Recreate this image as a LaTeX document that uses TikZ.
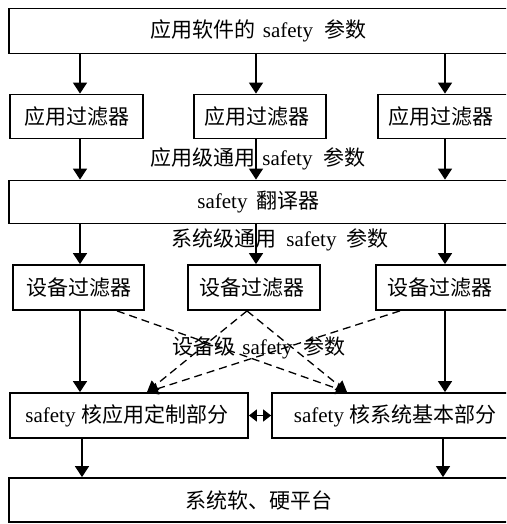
\documentclass[tikz,border=0pt]{standalone}
\usepackage{fontspec}
\setmainfont{Liberation Serif}
\newfontfamily\cjk{Noto Sans CJK SC}
\usetikzlibrary{arrows.meta}
\newcommand\zh[1]{{\cjk #1}}
\newcommand\gp[1]{\hspace*{#1pt}}
\begin{document}
\begin{tikzpicture}[x=1pt,y=-1pt,
  box/.style={draw, line width=1.8pt, inner sep=0pt, font=\fontsize{21}{25}\selectfont},
  lbl/.style={inner sep=0pt, font=\fontsize{21}{25}\selectfont},
  arr/.style={line width=1.4pt, -{Triangle[width=14pt,length=11pt]}},
  darr/.style={line width=1.3pt, dash pattern=on 8pt off 5pt, -{Triangle[width=12pt,length=11pt]}},
  biarr/.style={line width=1.4pt, {Triangle[width=12pt,length=8pt]}-{Triangle[width=12pt,length=8pt]}}]
\useasboundingbox (0,0) rectangle (506,524);
\clip (0,0) rectangle (506,524);
\fill[white] (0,0) rectangle (506,524);

% column coordinates
\coordinate (xa) at (80,0);
\coordinate (xb) at (256,0);
\coordinate (xc) at (445,0);
\coordinate (xd) at (82,0);
\coordinate (xe) at (443,0);
\coordinate (da) at (117,0);
\coordinate (db) at (247,0);
\coordinate (dc) at (400,0);
\coordinate (ta) at (147,0);
\coordinate (tb) at (347,0);

% boxes
\node[box, minimum width=499pt, minimum height=45pt] (top) at (258.5,31)
  {\zh{应用软件的}\gp{7}safety\gp{11}\zh{参数}};
\node[box, minimum width=133pt, minimum height=44pt] (f1) at (76.5,116.5) {\zh{应用过滤器}};
\node[box, minimum width=132pt, minimum height=44pt] (f2) at (260,116.5) {\zh{应用过滤器}\gp{6}};
\node[box, minimum width=136pt, minimum height=44pt] (f3) at (446,116.5) {\zh{应用过滤器}\gp{10}};
\node[box, minimum width=499pt, minimum height=43pt] (tr) at (258.5,202)
  {safety\gp{9}\zh{翻译器}};
\node[box, minimum width=131pt, minimum height=45pt] (d1) at (78.5,287.5) {\zh{设备过滤器}};
\node[box, minimum width=132pt, minimum height=45pt] (d2) at (254,287.5) {\zh{设备过滤器}\gp{5}};
\node[box, minimum width=140pt, minimum height=45pt] (d3) at (446,287.5) {\zh{设备过滤器}\gp{13}};
\node[box, minimum width=238pt, minimum height=45pt] (c1) at (129,415.5)
  {safety\gp{6}\zh{核应用定制部分}\gp{4}};
\node[box, minimum width=246pt, minimum height=45pt] (c2) at (395,415.5)
  {safety\gp{5}\zh{核系统基本部分}};
\node[box, minimum width=499pt, minimum height=44pt] (bot) at (258.5,500)
  {\zh{系统软、硬平台}};

% labels
\node[lbl] (l1) at (258,159) {\zh{应用级通用}\gp{7}safety\gp{11}\zh{参数}};
\node[lbl] (l2) at (280,240) {\zh{系统级通用}\gp{10}safety\gp{10}\zh{参数}};
\node[lbl] (l3) at (259,348) {\zh{设备级}\gp{7}safety\gp{11}\zh{参数}};

% arrows
\draw[arr] (top.south -| xa) -- (f1.north -| xa);
\draw[arr] (top.south -| xb) -- (f2.north -| xb);
\draw[arr] (top.south -| xc) -- (f3.north -| xc);
\draw[arr] (f1.south -| xa) -- (tr.north -| xa);
\draw[arr] (f2.south -| xb) -- (tr.north -| xb);
\draw[arr] (f3.south -| xc) -- (tr.north -| xc);
\draw[arr] (tr.south -| xa) -- (d1.north -| xa);
\draw[arr] (tr.south -| xb) -- (d2.north -| xb);
\draw[arr] (tr.south -| xc) -- (d3.north -| xc);
\draw[arr] (d1.south -| xa) -- (c1.north -| xa);
\draw[arr] (d3.south -| xc) -- (c2.north -| xc);
\draw[arr] (c1.south -| xd) -- (bot.north -| xd);
\draw[arr] (c2.south -| xe) -- (bot.north -| xe);
\draw[biarr] (c1.east) -- (c2.west);

% dashed
\draw[darr] (d1.south -| da) -- (c2.north -| tb);
\draw[darr] (d2.south -| db) -- (c1.north -| ta);
\draw[darr] (d2.south -| db) -- (c2.north -| tb);
\draw[darr] (d3.south -| dc) -- (c1.north -| ta);
\end{tikzpicture}
\end{document}
